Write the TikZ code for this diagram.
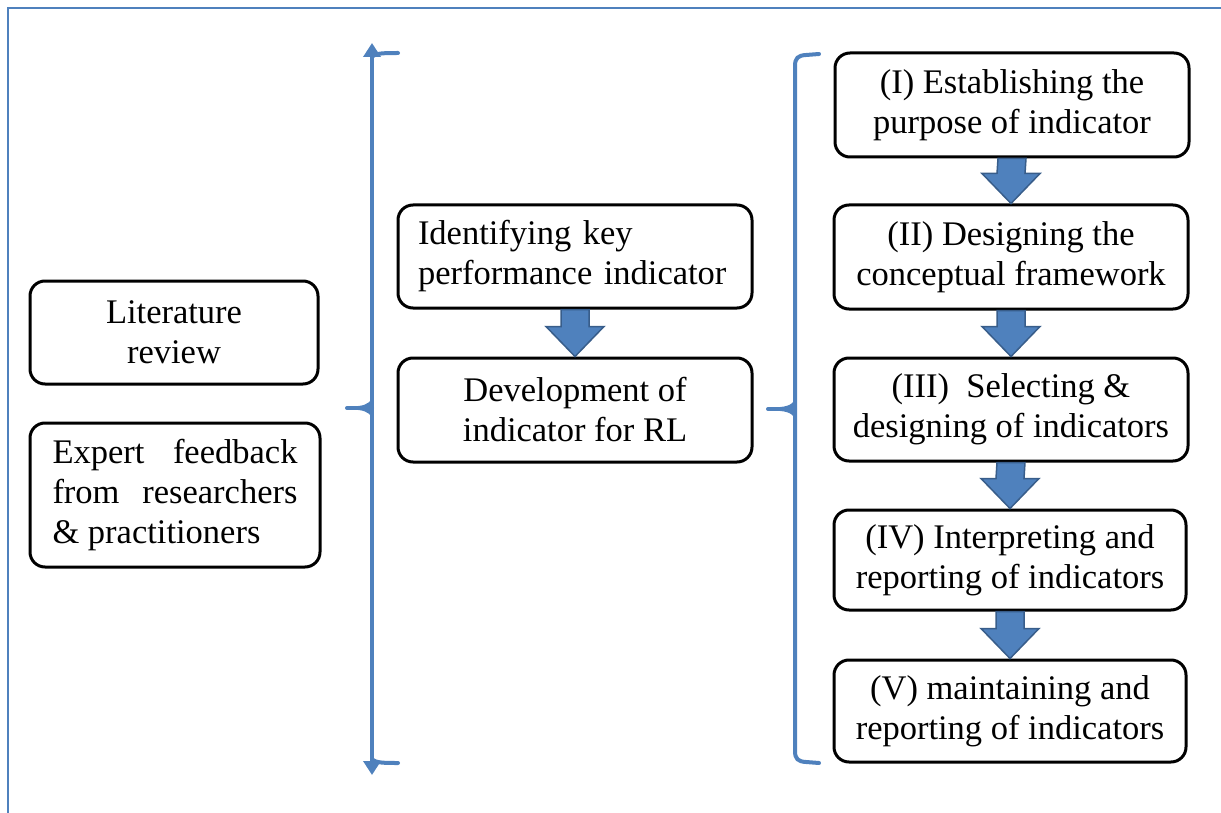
\documentclass[tikz,border=0pt]{standalone}
\usepackage{fontspec}
\setmainfont{Liberation Serif}
\usetikzlibrary{calc,arrows.meta}
\definecolor{brk}{RGB}{79,129,189}
\definecolor{arrfill}{RGB}{79,129,189}
\definecolor{arrdraw}{RGB}{56,93,138}
\tikzset{
  box/.style={draw=black, line width=3pt, rounded corners=15pt, align=center,
    inner sep=0pt, font=\fontsize{34.5}{40}\selectfont},
  bracketline/.style={draw=brk, line width=4pt},
  blockarrow/.style={fill=arrfill, draw=arrdraw, line width=1.5pt, line join=miter}
}
\newcommand{\blockarr}[2]{%
  \path[blockarrow] ($(#1.south)+(-14,0)$) -- ($(#1.south)+(14,0)$)
    -- ($(#2.north)+(14,-30)$) -- ($(#2.north)+(29,-30)$) -- (#2.north)
    -- ($(#2.north)+(-29,-30)$) -- ($(#2.north)+(-14,-30)$) -- cycle;}
\begin{document}
\begin{tikzpicture}[x=1pt,y=-1pt]
\useasboundingbox (0,0) rectangle (1221,813);
% frame
\draw[brk, line width=2.5pt] (8,813) -- (8,8) -- (1221,8);

% left boxes
\node[box, minimum width=288pt, minimum height=103pt] (lit) at (174,332.5) {Literature\\review};
\node[box, minimum width=290pt, minimum height=144pt] (exp) at (175,495)
  {\parbox{245pt}{\fontsize{34.5}{40}\selectfont Expert\hfill feedback\\from\hfill researchers\\\&~practitioners}};

% middle boxes
\node[box, minimum width=354pt, minimum height=103pt, align=left, text width=314pt] (kpi) at (575,256.5)
  {Identifying key\\performance indicator};
\node[box, minimum width=354pt, minimum height=104pt] (dev) at (575,410) {Development of\\indicator for RL};

% right boxes
\node[box, minimum width=354pt, minimum height=104pt] (s1) at (1012,105) {(I) Establishing the\\purpose of indicator};
\node[box, minimum width=354pt, minimum height=104pt] (s2) at (1011,257) {(II) Designing the\\conceptual framework};
\node[box, minimum width=354pt, minimum height=103pt] (s3) at (1011,409.5) {(III)\ \ Selecting \&\\designing of indicators};
\node[box, minimum width=352pt, minimum height=100pt] (s4) at (1010,560) {(IV) Interpreting and\\reporting of indicators};
\node[box, minimum width=352pt, minimum height=102pt] (s5) at (1010,711) {(V) maintaining and\\reporting of indicators};

% block arrows
\blockarr{kpi}{dev}
\blockarr{s1}{s2}
\blockarr{s2}{s3}
\blockarr{s3}{s4}
\blockarr{s4}{s5}

% bracket 1
\coordinate (b1t) at (372,43);
\coordinate (b1b) at (372,775);
\coordinate (b1m) at (347,408);
\draw[bracketline, {Triangle[length=14pt,width=17pt]}-{Triangle[length=14pt,width=17pt]}] (b1t) -- (b1b);
\draw[bracketline, line cap=round] (372,57) .. controls (375,53) and (385,53) .. (398,53);
\draw[bracketline, line cap=round] (372,759) .. controls (375,763) and (385,763) .. (398,763);
\draw[bracketline, line cap=round] (b1m) -- (372,408);
\fill[brk] (372,398) .. controls (369,405) and (362,406) .. (352,406.5) -- (352,409.5) .. controls (362,410) and (369,411) .. (372,418) -- cycle;

% bracket 2
\coordinate (b2m) at (768,409);
\draw[bracketline, line cap=round] (819,54) -- (806,55) .. controls (798,55.5) and (795,58) .. (795,66)
  -- (795,751) .. controls (795,759) and (798,761.5) .. (806,762) -- (819,763);
\draw[bracketline, line cap=round] (b2m) -- (795,409);
\fill[brk] (795,399) .. controls (792,406) and (785,407) .. (773,407.5) -- (773,410.5) .. controls (785,411) and (792,412) .. (795,419) -- cycle;
\end{tikzpicture}
\end{document}
